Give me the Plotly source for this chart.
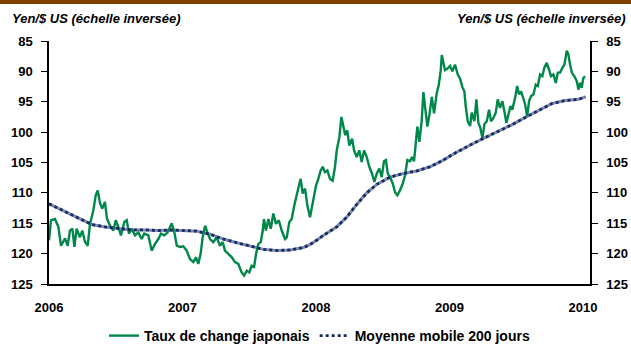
import plotly.graph_objects as go

# Taux de change JPY/USD (années décimales)
fx_years = [2006.000, 2006.015, 2006.045, 2006.070, 2006.090, 2006.120, 2006.140, 2006.157, 2006.175, 2006.190,
            2006.207, 2006.232, 2006.249, 2006.270, 2006.290, 2006.307, 2006.332, 2006.350, 2006.365, 2006.382,
            2006.399, 2006.419, 2006.434, 2006.457, 2006.482, 2006.500, 2006.519, 2006.539, 2006.564, 2006.582,
            2006.599, 2006.619, 2006.644, 2006.669, 2006.694, 2006.714, 2006.744, 2006.769, 2006.794, 2006.819,
            2006.839, 2006.864, 2006.889, 2006.906, 2006.919, 2006.939, 2006.957, 2006.981, 2007.006, 2007.031,
            2007.056, 2007.081, 2007.101, 2007.118, 2007.136, 2007.151, 2007.169, 2007.186, 2007.206, 2007.231,
            2007.256, 2007.281, 2007.301, 2007.318, 2007.343, 2007.369, 2007.393, 2007.418, 2007.443, 2007.461,
            2007.481, 2007.500, 2007.518, 2007.536, 2007.551, 2007.568, 2007.586, 2007.601, 2007.610, 2007.625,
            2007.643, 2007.661, 2007.680, 2007.700, 2007.721, 2007.743, 2007.768, 2007.781, 2007.800, 2007.818,
            2007.835, 2007.855, 2007.875, 2007.885, 2007.900, 2007.918, 2007.935, 2007.955, 2007.975, 2008.000,
            2008.017, 2008.035, 2008.050, 2008.067, 2008.085, 2008.105, 2008.125, 2008.142, 2008.155, 2008.175,
            2008.190, 2008.204, 2008.219, 2008.234, 2008.249, 2008.270, 2008.285, 2008.305, 2008.324, 2008.342,
            2008.360, 2008.380, 2008.399, 2008.419, 2008.437, 2008.455, 2008.474, 2008.492, 2008.509, 2008.524,
            2008.537, 2008.554, 2008.575, 2008.592, 2008.609, 2008.629, 2008.649, 2008.667, 2008.684, 2008.704,
            2008.719, 2008.734, 2008.749, 2008.759, 2008.774, 2008.792, 2008.804, 2008.819, 2008.834, 2008.849,
            2008.867, 2008.884, 2008.904, 2008.919, 2008.934, 2008.942, 2008.966, 2008.987, 2009.004, 2009.021,
            2009.041, 2009.061, 2009.079, 2009.096, 2009.111, 2009.121, 2009.136, 2009.154, 2009.166, 2009.186,
            2009.201, 2009.216, 2009.231, 2009.246, 2009.261, 2009.279, 2009.296, 2009.311, 2009.328, 2009.346,
            2009.361, 2009.378, 2009.396, 2009.411, 2009.426, 2009.441, 2009.456, 2009.470, 2009.491, 2009.506,
            2009.521, 2009.536, 2009.551, 2009.566, 2009.581, 2009.596, 2009.610, 2009.628, 2009.646, 2009.661,
            2009.678, 2009.695, 2009.710, 2009.728, 2009.745, 2009.760, 2009.778, 2009.796, 2009.811, 2009.828,
            2009.845, 2009.860, 2009.878, 2009.890, 2009.903, 2009.916, 2009.935, 2009.953, 2009.965, 2009.978,
            2009.990, 2010.002, 2010.015]
fx_values = [117.8, 114.5, 114.3, 115.6, 118.7, 117.5, 118.7, 116.2, 115.9, 118.9,
             115.9, 117.3, 116.2, 118.1, 118.7, 115.1, 112.9, 110.4, 109.6, 111.7,
             112.6, 111.5, 114.2, 115.4, 116.2, 114.5, 115.6, 117.0, 114.8, 114.5,
             116.7, 115.9, 117.0, 116.5, 117.6, 116.7, 117.0, 119.5, 118.4, 117.6,
             116.7, 117.0, 116.5, 115.6, 115.0, 116.5, 118.7, 118.9, 118.8, 119.5,
             120.9, 121.4, 120.6, 121.7, 120.0, 117.3, 115.4, 116.5, 117.6, 118.1,
             117.3, 118.7, 118.1, 119.5, 120.0, 120.6, 121.4, 121.7, 123.1, 123.6,
             122.8, 123.1, 122.0, 122.2, 120.0, 118.4, 118.1, 116.2, 114.3, 116.2,
             114.3, 115.9, 113.4, 115.1, 114.5, 116.2, 117.6, 117.3, 114.8, 114.3,
             112.3, 110.1, 108.5, 107.7, 110.1, 109.3, 112.1, 114.0, 111.5, 108.8,
             107.7, 106.3, 105.7, 106.6, 106.3, 107.7, 108.0, 105.7, 103.0, 100.8,
             97.5, 99.1, 100.5, 99.7, 102.2, 101.1, 103.0, 104.1, 103.0, 104.9,
             103.0, 104.1, 105.7, 106.8, 108.2, 106.8, 106.0, 107.4, 104.8, 104.6,
             106.8, 107.4, 108.5, 109.9, 110.4, 109.6, 108.5, 107.1, 104.6, 104.8,
             104.1, 104.8, 101.3, 99.1, 101.6, 98.0, 93.4, 96.4, 99.1, 97.2,
             94.2, 96.9, 93.6, 92.3, 89.8, 87.3, 89.8, 89.5, 89.1, 90.0,
             88.9, 90.5, 91.2, 92.6, 93.3, 95.7, 98.2, 99.0, 96.8, 98.2,
             94.6, 98.5, 99.3, 101.0, 98.7, 98.2, 96.3, 98.2, 97.7, 96.8,
             94.6, 96.0, 94.9, 96.6, 98.5, 97.1, 95.7, 96.3, 94.4, 92.4,
             93.8, 93.3, 94.6, 95.4, 97.4, 94.9, 94.1, 93.8, 92.2, 92.4,
             90.5, 90.8, 89.4, 88.6, 89.7, 90.8, 90.5, 91.9, 90.2, 90.2,
             89.4, 88.9, 86.6, 87.2, 88.9, 90.2, 90.8, 91.6, 93.0, 91.9,
             92.7, 91.1, 90.8]

# Moyenne mobile 200 jours
ma_years = [2006.000, 2006.095, 2006.170, 2006.245, 2006.320, 2006.419, 2006.519, 2006.619, 2006.719, 2006.819,
            2006.919, 2007.006, 2007.106, 2007.206, 2007.306, 2007.406, 2007.506, 2007.606, 2007.706, 2007.806,
            2007.906, 2007.955, 2008.005, 2008.055, 2008.155, 2008.230, 2008.305, 2008.380, 2008.455, 2008.554,
            2008.654, 2008.754, 2008.854, 2008.954, 2009.029, 2009.104, 2009.166, 2009.266, 2009.366, 2009.466,
            2009.566, 2009.666, 2009.766, 2009.866, 2009.916, 2009.965, 2010.018]
ma_values = [111.8, 112.8, 113.6, 114.5, 115.2, 115.6, 115.9, 116.1, 116.1, 116.2,
             116.1, 116.2, 116.3, 116.8, 117.6, 118.2, 118.8, 119.3, 119.5, 119.4,
             119.0, 118.5, 117.8, 117.0, 115.6, 114.0, 111.9, 110.0, 108.6, 107.4,
             106.8, 106.4, 105.7, 104.6, 103.6, 102.7, 102.0, 100.9, 99.9, 98.8,
             97.6, 96.4, 95.3, 94.8, 94.7, 94.6, 94.2]

GREEN = "#00874A"
NAVY = "#1B2A5E"
FONT = "Liberation Sans"

fig = go.Figure()
fig.add_trace(go.Scatter(x=ma_years, y=ma_values, mode="lines",
                         line=dict(color="#7A8AB4", width=3.0), showlegend=False, hoverinfo="skip"))
fig.add_trace(go.Scatter(x=fx_years, y=fx_values, mode="lines", name="Taux de change japonais",
                         line=dict(color=GREEN, width=2.4)))
fig.add_trace(go.Scatter(x=ma_years, y=ma_values, mode="lines", name="Moyenne mobile 200 jours",
                         line=dict(color=NAVY, width=2.8, dash="dot")))
# trace fantôme pour l'axe de droite
fig.add_trace(go.Scatter(x=[ma_years[0]], y=[ma_values[0]], yaxis="y2", mode="lines",
                         line=dict(width=0), showlegend=False, hoverinfo="skip"))

yticks = [85, 90, 95, 100, 105, 110, 115, 120, 125]
xticks = [2006, 2007, 2008, 2009, 2010]

axis_font = dict(family=FONT, size=13, color="#000000", weight="bold")

fig.update_layout(
    width=631, height=345,
    margin=dict(l=49, r=41, t=41, b=61, autoexpand=False),
    paper_bgcolor="white", plot_bgcolor="white",
    font=dict(family=FONT, size=12, color="#000"),
    xaxis=dict(range=[2006, 2010.052], tickvals=xticks, ticktext=[str(t) for t in xticks],
               showgrid=False, zeroline=False, showline=True, linecolor="black", linewidth=1.5,
               ticks="", tickfont=axis_font, ticklabelstandoff=11, automargin=False),
    yaxis=dict(range=[125, 85], tickvals=yticks, showgrid=False, zeroline=False,
               showline=True, linecolor="black", linewidth=1.5, ticks="outside", ticklen=6,
               tickcolor="black", tickwidth=1, tickfont=axis_font, ticklabelstandoff=6, automargin=False),
    yaxis2=dict(range=[125, 85], tickvals=yticks, overlaying="y", side="right", showgrid=False,
                zeroline=False, showline=True, linecolor="black", linewidth=1.5, ticks="outside",
                ticklen=6, tickcolor="black", tickwidth=1, tickfont=axis_font, ticklabelstandoff=6,
                automargin=False),
    legend=dict(orientation="h", x=0.5, xanchor="center", yref="container", y=9/345, yanchor="middle",
                font=dict(family=FONT, size=14, color="#000", weight="bold"),
                bgcolor="rgba(0,0,0,0)", itemwidth=30, tracegroupgap=0),
    shapes=[dict(type="rect", xref="paper", yref="paper", x0=-49/541, x1=1 + 41/541,
                 y0=1 + 41/243, y1=1 + 37/243, fillcolor="#7F3F00", line=dict(width=0), layer="above")],
    annotations=[
        dict(text="<b><i>Yen/$ US (échelle inversée)</i></b>", xref="paper", yref="paper",
             x=-39/541, y=(284 - 18) / 243, xanchor="left", yanchor="middle", showarrow=False,
             font=dict(family=FONT, size=13, color="#000")),
        dict(text="<b><i>Yen/$ US (échelle inversée)</i></b>", xref="paper", yref="paper",
             x=(628 - 49) / 541, y=(284 - 18) / 243, xanchor="right", yanchor="middle", showarrow=False,
             font=dict(family=FONT, size=13, color="#000")),
    ],
)

fig.write_html("out.html")
